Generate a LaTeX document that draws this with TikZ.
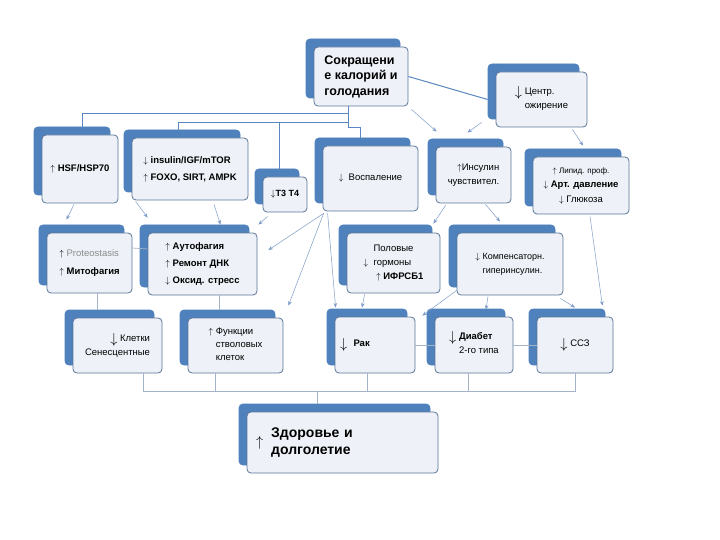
\documentclass[tikz,border=0pt]{standalone}
\usepackage{fontspec}
\setmainfont{Liberation Sans}
\usetikzlibrary{arrows.meta,positioning,calc,shadows}
\definecolor{boxback}{HTML}{4F81BD}
\definecolor{boxfill}{HTML}{EEF2F8}
\definecolor{boxline}{HTML}{5B7599}
\definecolor{treeline}{HTML}{5B87C0}
\definecolor{linkgray}{HTML}{A3B3C8}
\definecolor{arrowblue}{HTML}{7E9DC8}
\definecolor{muted}{HTML}{8A8A8A}
\newcommand{\upa}{$\uparrow$}
\newcommand{\dna}{$\downarrow$}
\newcommand{\bigdna}{\raisebox{-0.4ex}{\Large$\downarrow$}}
\tikzset{
  box/.style={draw=boxline, fill=boxfill, rounded corners=4pt, line width=0.8pt,
              inner sep=4pt, align=left, font=\fontsize{9.5}{14}\selectfont,
              copy shadow={shadow xshift=-8pt, shadow yshift=8pt, draw=boxback, fill=boxback}},
  sz/.style 2 args={minimum width=#1pt, minimum height=#2pt},
  tree/.style={draw=treeline, line width=1pt},
  link/.style={draw=linkgray, line width=0.7pt},
  arrow/.style={-{Stealth[length=1.6mm,width=1.3mm]}, draw=arrowblue, line width=0.5pt}
}
\begin{document}
\begin{tikzpicture}[x=1pt,y=-1pt]
  \fill[white] (0,0) rectangle (720,540);
  \useasboundingbox (0,0) rectangle (720,540);
  % top level
  \node[box,sz={94}{59},font=\fontsize{12.5}{15.5}\selectfont\bfseries] (sokr) at (361,76.5)
    {Сокращени\\е калорий и\\голодания};
  \node[box,sz={91}{55}] (centr) at (541.5,99.5)
    {\bigdna\ Центр.\\\phantom{\bigdna\ }ожирение};
  % second row
  \node[box,sz={76}{68}] (hsf) at (80,169) {\upa\ \textbf{HSF/HSP70}};
  \node[box,sz={116}{62}] (igf) at (190,169)
    {\dna\ \textbf{insulin/IGF/mTOR}\\[3pt]\upa\ \textbf{FOXO, SIRT, AMPK}};
  \node[box,sz={44}{35},inner sep=2pt,font=\fontsize{9}{11}\selectfont] (tt) at (285,194.5) {\dna\textbf{T3 T4}};
  \node[box,sz={95}{65}] (vosp) at (370.5,178.5) {\dna\ \ Воспаление};
  \node[box,sz={75}{56},align=right] (insul) at (473.5,175) {\upa Инсулин\\чувствител.};
  \node[box,sz={96}{57},align=center,font=\fontsize{9.5}{14.5}\selectfont] (lipid) at (581,185.5)
    {{\fontsize{8}{10}\selectfont\upa\ Липид. проф.}\\\dna\ \textbf{Арт. давление}\\\dna\ Глюкоза};
  % third row
  \node[box,sz={85}{60}] (prot) at (89.5,263)
    {\upa\ \textcolor{muted}{Proteostasis}\\[4pt]\upa\ \textbf{Митофагия}};
  \node[box,sz={109}{62},font=\fontsize{9.5}{17}\selectfont\bfseries] (auto) at (202.5,264)
    {\upa\ Аутофагия\\\upa\ Ремонт ДНК\\\dna\ Оксид. стресс};
  \node[box,sz={93}{60},font=\fontsize{9.5}{14}\selectfont] (polov) at (393.5,263)
    {\phantom{\dna}\ \ Половые\\\dna\ \ гормоны\\\phantom{\dna}\ \ \ \upa\ \textbf{ИФРСБ1}};
  \node[box,sz={106}{62},font=\fontsize{9}{14}\selectfont] (komp) at (510,264)
    {\dna\ Компенсаторн.\\\phantom{\dna\ }гиперинсулин.};
  % fourth row
  \node[box,sz={89}{55},align=right] (klet) at (117.5,345.5) {\bigdna\ Клетки\\Сенесцентные};
  \node[box,sz={95}{55},font=\fontsize{9.5}{13}\selectfont] (func) at (235.5,345.5)
    {\upa\ Функции\\\phantom{\upa\ }стволовых\\\phantom{\upa\ }клеток};
  \node[box,sz={80}{56},text width=70pt] (rak) at (375,345) {\bigdna\ \ \textbf{Рак}};
  \node[box,sz={78}{56}] (diab) at (474,345)
    {\bigdna\ \textbf{Диабет}\\\phantom{\bigdna\ }2-го типа};
  \node[box,sz={76}{56}] (ssz) at (575,345) {\bigdna\ ССЗ};
  % result
  \node[box,sz={191}{61},text width=181pt,font=\fontsize{14}{17}\selectfont] (zdor) at (342.5,442.5)
    {\hspace{4pt}\upa\hspace{8pt}\begin{tabular}[c]{@{}l@{}}\textbf{Здоровье и}\\\textbf{долголетие}\end{tabular}};
  % tree from the top box
  \draw[tree] (sokr.east) -- ([xshift=-8pt]centr.west);
  \draw[tree] ([xshift=-13pt]sokr.south) -- ++(0,7) -| ([xshift=2pt,yshift=8pt]hsf.north);
  \draw[tree] ([xshift=-13pt]sokr.south) -- ++(0,16) -| ([xshift=-12pt,yshift=8pt]igf.north);
  \draw[tree] ([xshift=-13pt]sokr.south) ++(0,16) -| ([xshift=-6pt,yshift=8pt]tt.north);
  \draw[tree] ([xshift=-13pt]sokr.south) -- ++(0,21) -| ([xshift=-10pt,yshift=8pt]vosp.north);
  % arrows
  \draw[arrow] ([xshift=3pt,yshift=-3pt]sokr.south east) -- ([xshift=1pt,yshift=15pt]insul.north west);
  \draw[arrow] ([xshift=-14pt,yshift=5pt]centr.south west) -- ([xshift=-6pt,yshift=14pt]insul.north);
  \draw[arrow] ([xshift=-15pt,yshift=-2pt]centr.south east) -- ([xshift=2pt,yshift=11pt]lipid.north);
  \draw[arrow] ([xshift=-6pt,yshift=-1pt]hsf.south) -- ([xshift=-23pt,yshift=13pt]prot.north);
  \draw[arrow] ([xshift=4pt,yshift=-1pt]igf.south west) -- ([yshift=15pt]auto.north west);
  \draw[arrow] ([xshift=24pt,yshift=-4pt]igf.south) -- ([xshift=18pt,yshift=8pt]auto.north);
  \draw[arrow] ([xshift=5pt,yshift=-4pt]tt.south west) -- ([xshift=1pt,yshift=8pt]auto.north east);
  \draw[arrow] ([xshift=1pt,yshift=-2pt]vosp.south west) -- ([xshift=11pt,yshift=14pt]auto.east);
  \draw[arrow] ([xshift=1pt,yshift=-2pt]vosp.south west) -- ([xshift=5pt,yshift=12pt]func.north east);
  \draw[arrow] ([xshift=5pt,yshift=-2pt]vosp.south west) -- ([xshift=1pt,yshift=9pt]rak.north west);
  \draw[arrow] ([xshift=10pt,yshift=-2pt]insul.south west) -- ([xshift=-7pt,yshift=9pt]polov.north east);
  \draw[arrow] ([xshift=12pt,yshift=-1pt]insul.south) -- ([xshift=-10pt,yshift=11pt]komp.north);
  \draw[arrow] ([xshift=9pt,yshift=-2pt]lipid.south) -- ([xshift=-11pt,yshift=11pt]ssz.north east);
  \draw[arrow] ([xshift=18pt,yshift=-1pt]polov.south west) -- ([xshift=-13pt,yshift=9pt]rak.north);
  \draw[arrow] ([yshift=5pt]komp.south west) -- ([xshift=7pt,yshift=1pt]rak.north east);
  \draw[arrow] ([xshift=-22pt,yshift=-1pt]komp.south) -- ([xshift=12pt,yshift=7pt]diab.north);
  \draw[arrow] ([xshift=-3pt,yshift=-3pt]komp.south east) -- ([yshift=9pt]ssz.north);
  % plain links
  \draw[link] ([yshift=15pt]prot.east) -- ([yshift=15pt]auto.west);
  \draw[link] (rak.east) -- (diab.west);
  \draw[link] (diab.east) -- (ssz.west);
  \draw[link] ([xshift=8pt]prot.south) -- ([xshift=8pt,yshift=8pt]prot.south |- klet.north);
  \draw[link] ([xshift=17pt]auto.south) -- ([xshift=17pt,yshift=8pt]auto.south |- func.north);
  % bottom tree
  \coordinate (hub) at ([xshift=-25pt,yshift=20pt]zdor.north);
  \draw[link] ([xshift=26pt]klet.south) |- (hub);
  \draw[link] ([xshift=-20pt]func.south) |- (hub);
  \draw[link] ([xshift=-8pt]rak.south) |- (hub);
  \draw[link] ([xshift=-6pt]diab.south) |- (hub);
  \draw[link] (ssz.south) |- (hub);
  \draw[link] (hub) -- ([xshift=-25pt,yshift=8pt]zdor.north);
\end{tikzpicture}
\end{document}
